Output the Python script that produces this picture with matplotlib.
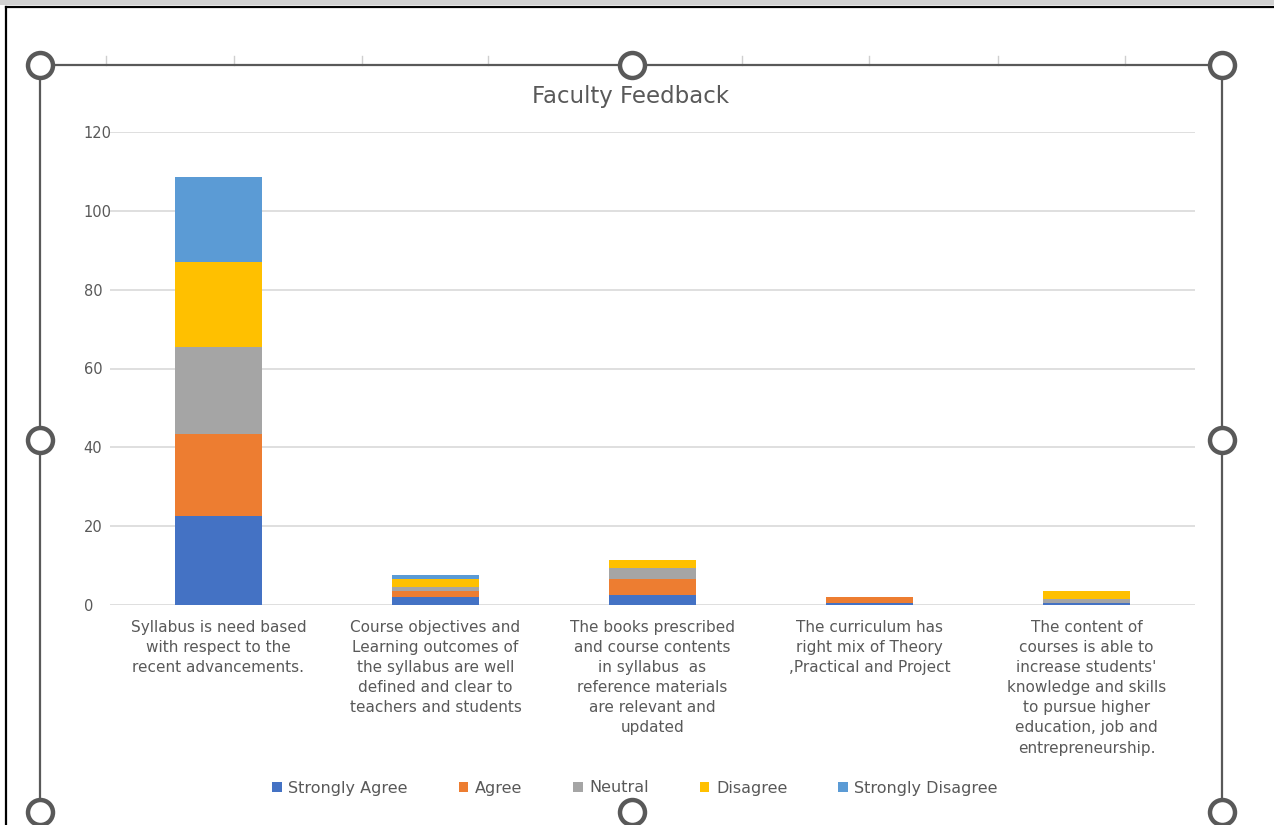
import matplotlib
matplotlib.use("Agg")
import matplotlib.pyplot as plt
import numpy as np

plt.rcParams["font.family"] = ["DejaVu Sans"]

CATEGORIES = [
    "Syllabus is need based\nwith respect to the\nrecent advancements.",
    "Course objectives and\nLearning outcomes of\nthe syllabus are well\ndefined and clear to\nteachers and students",
    "The books prescribed\nand course contents\nin syllabus  as\nreference materials\nare relevant and\nupdated",
    "The curriculum has\nright mix of Theory\n,Practical and Project",
    "The content of\ncourses is able to\nincrease students'\nknowledge and skills\nto pursue higher\neducation, job and\nentrepreneurship.",
]
SERIES = ["Strongly Agree", "Agree", "Neutral", "Disagree", "Strongly Disagree"]
strongly_agree = [22.5, 2, 2.5, 0.5, 0.5]
agree = [21, 1.5, 4, 1.5, 0]
neutral = [22, 1, 3, 0, 1]
disagree = [21.5, 2, 2, 0, 2]
strongly_disagree = [21.5, 1, 0, 0, 0]
VALUES = [strongly_agree, agree, neutral, disagree, strongly_disagree]
COLORS = ["#4472C4", "#ED7D31", "#A5A5A5", "#FFC000", "#5B9BD5"]
YTICKS = [0, 20, 40, 60, 80, 100, 120]

TXT = "#595959"
W, H = 1274, 825

fig = plt.figure(figsize=(W / 100, H / 100), dpi=100)
ax = fig.add_axes([110 / W, 1 - 605 / H, (1195 - 110) / W, (605 - 132) / H])

x = np.arange(len(CATEGORIES))
bottom = np.zeros(len(CATEGORIES))
for name, vals, col in zip(SERIES, VALUES, COLORS):
    ax.bar(x, vals, 0.4, bottom=bottom, color=col, label=name, zorder=3)
    bottom += np.array(vals)

ax.set_xlim(-0.5, 4.5)
ax.set_ylim(0, 120)
ax.set_yticks(YTICKS)
ax.set_yticklabels([str(v) for v in YTICKS], fontsize=10.5, color=TXT)
for lab in ax.get_yticklabels():
    lab.set_ha("left")
ax.tick_params(axis="y", length=0, pad=19)
ax.set_xticks(x)
ax.set_xticklabels(CATEGORIES, fontsize=11, color=TXT, linespacing=1.42, va="top")
ax.tick_params(axis="x", length=0, pad=11)
ax.grid(axis="y", color="#d9d9d9", lw=1.2, zorder=0)
for s in ax.spines.values():
    s.set_visible(False)

fig.text(631 / W, 1 - 96 / H, "Faculty Feedback", ha="center", va="center",
         fontsize=16.5, color=TXT)

ax.legend(loc="center", bbox_to_anchor=(635 / W, 1 - 788 / H), bbox_transform=fig.transFigure,
          ncol=5, frameon=False, fontsize=11.5, labelcolor=TXT, handlelength=0.6,
          handleheight=0.6, handletextpad=0.4, columnspacing=3.2)

# screenshot decorations: outer border, chart frame, selection handles
ov = fig.add_axes([0, 0, 1, 1], zorder=-1)
ov.set_xlim(0, W)
ov.set_ylim(H, 0)
ov.axis("off")
ov.add_patch(plt.Rectangle((0, 0), W, 5, color="#d0d0d0", lw=0))
ov.plot([6, W], [7, 7], color="black", lw=1.6)
ov.plot([6, 6], [7, H], color="black", lw=1.6)
for tx in [106, 234, 362, 488, 742, 869, 998, 1125]:
    ov.plot([tx, tx], [56, 65], color="#cfcfcf", lw=1)

ov2 = fig.add_axes([0, 0, 1, 1], zorder=5)
ov2.set_xlim(0, W)
ov2.set_ylim(H, 0)
ov2.axis("off")
ov2.plot([40, 1222], [65, 65], color="#595959", lw=1.6)
ov2.plot([40, 40], [65, H], color="#595959", lw=1.6)
ov2.plot([1222, 1222], [65, H], color="#595959", lw=1.6)
hx = [40, 632, 1222, 40, 1222, 40, 632, 1222]
hy = [65, 65, 65, 440, 440, 812, 812, 812]
ov2.plot(hx, hy, "o", ms=18, mfc="white", mec="#595959", mew=3.2, clip_on=False)

fig.savefig("out.png", dpi=100)
